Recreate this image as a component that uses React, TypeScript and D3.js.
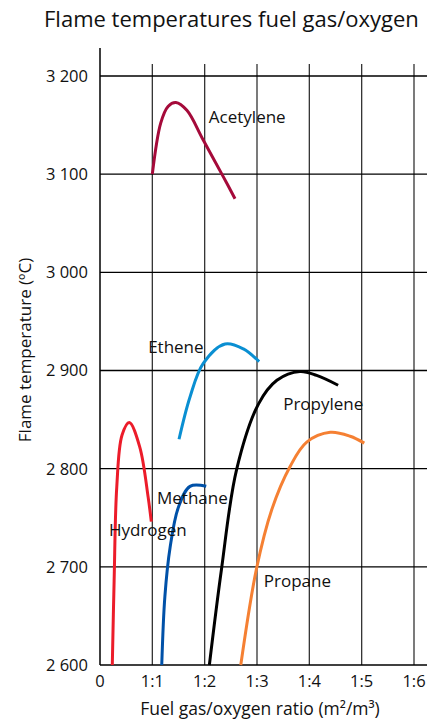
import { useEffect, useRef } from 'react';
import * as d3 from 'd3';

// Ratio ticks: 0, 1:1 ... 1:6 mapped to index positions
const xTickLabels = ['0', '1:1', '1:2', '1:3', '1:4', '1:5', '1:6'];
const yTicks = [2600, 2700, 2800, 2900, 3000, 3100, 3200];

// [ratio position, temperature °C]
const acetylene: [number, number][] = [
  [1.0, 3100], [1.16, 3152], [1.3, 3169], [1.45, 3173], [1.66, 3165], [1.97, 3135], [2.36, 3097], [2.58, 3075],
];
const ethene: [number, number][] = [
  [1.51, 2830], [1.72, 2873], [1.97, 2907], [2.39, 2927], [2.74, 2922], [3.04, 2909],
];
const hydrogen: [number, number][] = [
  [0.235, 2600], [0.27, 2686], [0.32, 2781], [0.42, 2834], [0.56, 2847], [0.76, 2822], [0.92, 2771], [0.98, 2746],
];
const methane: [number, number][] = [
  [1.18, 2600], [1.24, 2670], [1.34, 2720], [1.5, 2761], [1.72, 2782], [2.03, 2782],
];
const propylene: [number, number][] = [
  [2.09, 2600], [2.32, 2697], [2.61, 2799], [3.03, 2866], [3.38, 2890], [3.82, 2899], [4.14, 2895], [4.55, 2885],
];
const propane: [number, number][] = [
  [2.69, 2600], [2.99, 2698], [3.28, 2758], [3.63, 2802], [3.95, 2827], [4.4, 2837], [4.78, 2833], [5.05, 2826],
];

const seriesNames = ['Acetylene', 'Ethene', 'Hydrogen', 'Methane', 'Propylene', 'Propane'];
const seriesData = [acetylene, ethene, hydrogen, methane, propylene, propane];
const seriesColors = ['#a50a3a', '#0a8fd2', '#ec1c2a', '#0051a8', '#000000', '#f58033'];
// label anchor in data units (left x, middle y)
const labelPos: [number, number][] = [
  [2.08, 3158], [0.92, 2924], [0.17, 2738], [1.09, 2770], [3.5, 2866], [3.13, 2686],
];

const FONT = '"Open Sans", "Noto Sans", sans-serif';

export default function App() {
  const svgRef = useRef<SVGSVGElement>(null);

  useEffect(() => {
    if (!svgRef.current) return;
    const svg = d3.select(svgRef.current);
    svg.selectAll('*').remove();

    const width = 427;
    const left = 100;
    const bottom = 665;

    const x = d3.scaleLinear().domain([0, 6]).range([left, 414]);
    const y = d3.scaleLinear().domain([2600, 3200]).range([bottom, 76]);

    const g = svg.append('g').attr('font-family', FONT);

    // Title
    g.append('text')
      .attr('x', 44)
      .attr('y', 27)
      .attr('font-size', 22)
      .attr('fill', '#111')
      .text('Flame temperatures fuel gas/oxygen');

    // Vertical grid
    g.append('g')
      .selectAll('line')
      .data(d3.range(1, 7))
      .join('line')
      .attr('x1', (d) => x(d))
      .attr('x2', (d) => x(d))
      .attr('y1', 64)
      .attr('y2', bottom)
      .attr('stroke', '#333')
      .attr('stroke-width', 1.3);

    // Horizontal grid
    g.append('g')
      .selectAll('line')
      .data(yTicks)
      .join('line')
      .attr('x1', left)
      .attr('x2', width)
      .attr('y1', (d) => y(d))
      .attr('y2', (d) => y(d))
      .attr('stroke', '#000')
      .attr('stroke-width', 1.3);

    // Left axis line
    g.append('line')
      .attr('x1', left)
      .attr('x2', left)
      .attr('y1', 48)
      .attr('y2', bottom)
      .attr('stroke', '#000')
      .attr('stroke-width', 1.5);

    // Y tick labels
    g.append('g')
      .selectAll('text')
      .data(yTicks)
      .join('text')
      .attr('x', 88)
      .attr('y', (d) => y(d))
      .attr('dy', '0.36em')
      .attr('text-anchor', 'end')
      .attr('font-size', 16.5)
      .attr('fill', '#111')
      .text((d) => d3.format(',')(d).replace(',', ' '));

    // X tick labels
    g.append('g')
      .selectAll('text')
      .data(xTickLabels)
      .join('text')
      .attr('x', (_, i) => x(i))
      .attr('y', 687)
      .attr('text-anchor', 'middle')
      .attr('font-size', 16.5)
      .attr('fill', '#111')
      .text((d) => d);

    // Axis titles
    g.append('text')
      .attr('x', 260)
      .attr('y', 715)
      .attr('text-anchor', 'middle')
      .attr('font-size', 17.5)
      .attr('fill', '#111')
      .text('Fuel gas/oxygen ratio (m²/m³)');

    g.append('text')
      .attr('transform', 'translate(31,350) rotate(-90)')
      .attr('text-anchor', 'middle')
      .attr('font-size', 17)
      .attr('fill', '#111')
      .text('Flame temperature (ºC)');

    // Curves
    const line = d3
      .line<[number, number]>()
      .x((d) => x(d[0]))
      .y((d) => y(d[1]))
      .curve(d3.curveCatmullRom.alpha(0.5));

    g.append('g')
      .selectAll('path')
      .data(seriesData)
      .join('path')
      .attr('d', (d) => line(d))
      .attr('fill', 'none')
      .attr('stroke', (_, i) => seriesColors[i])
      .attr('stroke-width', 3);

    // Series labels
    g.append('g')
      .selectAll('text')
      .data(seriesNames)
      .join('text')
      .attr('x', (_, i) => x(labelPos[i][0]))
      .attr('y', (_, i) => y(labelPos[i][1]))
      .attr('dy', '0.36em')
      .attr('font-size', 17)
      .attr('fill', '#111')
      .text((d) => d);
  }, []);

  return (
    <svg
      ref={svgRef}
      width={427}
      height={720}
      style={{ position: 'absolute', left: 0, top: 0, background: '#fff' }}
    />
  );
}
